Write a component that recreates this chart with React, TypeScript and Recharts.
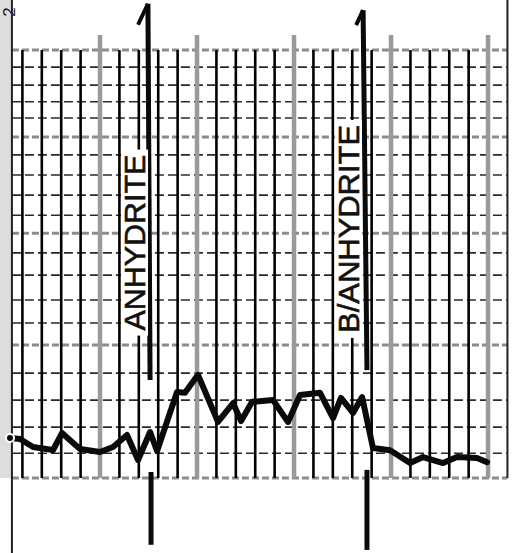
import React from 'react';
import { LineChart, Line, XAxis, YAxis, ReferenceLine, ReferenceDot, ReferenceArea } from 'recharts';

// Trace: depth position (in chart divisions) and log reading (percent of track height)
const depth = [0.36, 0.88, 1.55, 2.58, 3.04, 3.56, 3.97, 5.0, 5.67, 6.39, 6.96, 7.58, 7.94, 8.97, 9.38, 10.05, 11.08, 11.86, 12.27, 12.84, 13.92, 14.69, 15.31, 16.34, 17.01, 17.42, 18.04, 18.51, 19.07, 19.95, 20.98, 21.65, 22.68, 23.4, 24.43, 24.95];
const gamma = [9.35, 9.11, 7.24, 6.54, 10.51, 8.41, 6.78, 6.07, 7.24, 10.05, 4.21, 10.75, 6.3, 20.1, 19.9, 24.1, 13.1, 17.5, 13.3, 17.8, 18.2, 13.1, 19.4, 19.9, 14.0, 18.7, 15.2, 18.9, 7.0, 6.5, 3.5, 4.9, 3.5, 4.9, 4.7, 3.7];

// Grid
const minorX = [1, 2, 3, 4, 6, 7, 8, 9, 11, 12, 13, 14, 16, 17, 18, 19, 21, 22, 23, 24];
const majorX = [5, 10, 15, 20, 25];
const minorY = [96.0, 91.8, 87.9, 84.1, 75.5, 70.8, 66.1, 61.4, 52.6, 47.4, 41.6, 36.2, 24.5, 18.2, 11.9, 5.8];
const majorY = [100, 79.7, 57.2, 31.1, 0];

// Formation markers
const markers = [
  { name: 'ANHYDRITE', top: { x: 7.47, y: 110.8 }, mid: { x: 7.58, y: 22.9 }, low: { x: 7.63, y: 1.4 }, bot: { x: 7.63, y: -15.6 }, barb: { x: 6.96, y: 105.9 }, labelX: 7.32, labelY: 55.0, len: 176 },
  { name: 'B/ANHYDRITE', top: { x: 18.56, y: 109.3 }, mid: { x: 18.76, y: 25.2 }, low: { x: 18.76, y: 1.9 }, bot: { x: 18.76, y: -16.8 }, barb: { x: 18.2, y: 105.8 }, labelX: 18.35, labelY: 58.2, len: 208 },
];

const X_MIN = -0.155;
const X_MAX = 26.75;
const Y_MIN = -17.52;
const Y_MAX = 111.68;
const LEFT = 0.46;
const RIGHT = 26.0;

const data = depth.map((d, i) => ({ depth: d, gamma: gamma[i] }));

const labelShape = (text: string, len: number) => (props: any) => {
  const { cx, cy } = props;
  return (
    <g>
      <rect x={cx - 24} y={cy - len / 2 - 5} width={27} height={len + 10} fill="#ffffff" />
      <text
        x={cx}
        y={cy}
        transform={`rotate(-90 ${cx} ${cy})`}
        textAnchor="middle"
        fontSize={30}
        fontFamily="'Liberation Sans', Arial, sans-serif"
        fill="#111"
        stroke="#111"
        strokeWidth={0.6}
        textLength={len}
        lengthAdjust="spacingAndGlyphs"
      >
        {text}
      </text>
    </g>
  );
};

const cornerShape = (props: any) => {
  const { cx, cy } = props;
  return (
    <text x={cx} y={cy} transform={`rotate(-90 ${cx} ${cy})`} textAnchor="middle" fontSize={17} fontFamily="'Liberation Sans', Arial, sans-serif" fill="#222">
      2
    </text>
  );
};

export default function App() {
  return (
    <div style={{ position: 'absolute', left: 0, top: 0, width: 522, height: 553, background: '#fff' }}>
      <LineChart width={522} height={553} data={data} margin={{ top: 0, right: 0, bottom: 0, left: 0 }}>
        <XAxis type="number" dataKey="depth" domain={[X_MIN, X_MAX]} hide allowDataOverflow />
        <YAxis type="number" domain={[Y_MIN, Y_MAX]} hide allowDataOverflow />
        <ReferenceArea x1={X_MIN} x2={LEFT} y1={0} y2={Y_MAX} fill="#cfcfcf" fillOpacity={0.7} stroke="none" ifOverflow="visible" />
        {minorY.map((y) => (
          <ReferenceLine key={'hy' + y} segment={[{ x: LEFT, y }, { x: RIGHT, y }]} stroke="#2a2a2a" strokeWidth={1.6} strokeDasharray="9 4" ifOverflow="visible" />
        ))}
        {majorY.map((y) => (
          <ReferenceLine key={'my' + y} segment={[{ x: LEFT, y }, { x: RIGHT, y }]} stroke="#8c8c8c" strokeWidth={3} strokeDasharray="7 3" ifOverflow="visible" />
        ))}
        {minorX.map((x) => (
          <ReferenceLine key={'vx' + x} segment={[{ x, y: 0 }, { x, y: 100 }]} stroke="#000" strokeWidth={2.6} ifOverflow="visible" />
        ))}
        {majorX.map((x) => (
          <ReferenceLine key={'mx' + x} segment={[{ x, y: 0 }, { x, y: 103.5 }]} stroke="#9a9a9a" strokeWidth={4.5} ifOverflow="visible" />
        ))}
        <ReferenceLine segment={[{ x: LEFT, y: Y_MIN }, { x: LEFT, y: Y_MAX }]} stroke="#222" strokeWidth={2} ifOverflow="visible" />
        <ReferenceLine segment={[{ x: RIGHT, y: 0 }, { x: RIGHT, y: Y_MAX }]} stroke="#222" strokeWidth={2} ifOverflow="visible" />
        <Line type="linear" dataKey="gamma" stroke="#0a0a0a" strokeWidth={6} strokeLinejoin="round" strokeLinecap="round" dot={false} isAnimationActive={false} />
        {markers.map((m) => (
          <ReferenceLine key={m.name + 'u'} segment={[m.top, m.mid]} stroke="#0a0a0a" strokeWidth={5} ifOverflow="visible" />
        ))}
        {markers.map((m) => (
          <ReferenceLine key={m.name + 'l'} segment={[m.low, m.bot]} stroke="#0a0a0a" strokeWidth={5} ifOverflow="visible" />
        ))}
        {markers.map((m) => (
          <ReferenceLine key={m.name + 'b'} segment={[m.top, m.barb]} stroke="#0a0a0a" strokeWidth={4} ifOverflow="visible" />
        ))}
        {markers.map((m) => (
          <ReferenceDot key={m.name + 't'} x={m.labelX} y={m.labelY} r={1} shape={labelShape(m.name, m.len)} ifOverflow="visible" />
        ))}
        <ReferenceDot x={0.62} y={108.9} r={1} shape={cornerShape} ifOverflow="visible" />
      </LineChart>
    </div>
  );
}
